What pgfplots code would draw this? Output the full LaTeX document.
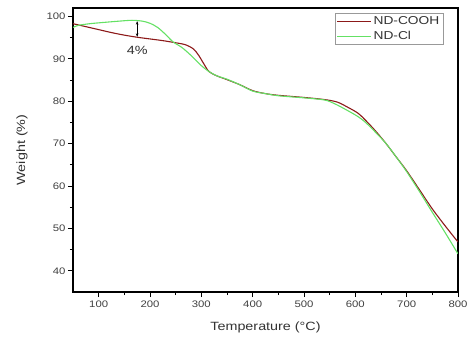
\documentclass[border=0pt]{standalone}
\usepackage{fontspec}
\setmainfont[FakeStretch=1.2]{Liberation Sans}
\usepackage{pgfplots}
\pgfplotsset{compat=1.18}
\usetikzlibrary{arrows.meta}
\definecolor{cooh}{RGB}{140,25,25}
\definecolor{ncl}{RGB}{100,225,100}
\begin{document}
\begin{tikzpicture}
\path[use as bounding box] (0,0) rectangle (467bp,339bp);
\begin{axis}[
  at={(73bp,47bp)}, anchor=south west,
  width=385bp, height=284bp, scale only axis,
  xmin=50, xmax=800, ymin=35, ymax=102,
  xtick={100,200,...,800}, ytick={40,50,...,100},
  minor xtick={150,250,...,750}, minor ytick={45,55,...,95},
  xtick pos=bottom, ytick pos=left, tick align=outside,
  major tick length=5bp, minor tick length=3bp,
  every tick/.style={black, line width=0.9pt},
  axis line style={line width=1.1pt},
  /pgf/number format/assume math mode=true,
  tick label style={font=\fontsize{9.5}{11}\selectfont, text=black!75},
  xticklabel style={yshift=0bp}, yticklabel style={xshift=1bp},
  xlabel={Temperature (°C)}, ylabel={Weight (\%)},
  label style={font=\fontsize{12}{14}\selectfont, text=black!80},
  xlabel style={yshift=-8bp}, ylabel style={yshift=12bp},
  legend style={at={(1,1)}, anchor=north east, xshift=-15bp, yshift=-5bp,
    draw=black!40, font=\fontsize{11.5}{13}\selectfont, text=black!80,
    inner sep=1.5pt, row sep=1pt, legend cell align=left},
  legend image code/.code={\draw[#1] (0cm,0cm) -- (1.2cm,0cm);},
]
\addplot[cooh, line width=1.1pt, smooth] coordinates {
(50,98.3) (75,97.6) (100,96.9) (125,96.2) (150,95.6) (175,95.1) (200,94.7)
(225,94.3) (250,93.8) (270,93.3) (285,92.3) (295,90.8) (305,88.8) (315,87.0)
(330,86.0) (350,85.1) (375,83.9) (400,82.5) (425,81.8) (450,81.4) (500,80.9)
(540,80.4) (565,79.8) (585,78.6) (605,77.2) (620,75.5) (640,72.9) (660,70.0)
(680,66.8) (700,63.6) (725,59.1) (750,54.6) (775,50.6) (800,46.8)};
\addlegendentry{ND-COOH}
\addplot[ncl, line width=1.1pt, smooth] coordinates {
(50,97.4) (60,97.9) (83,98.3) (110,98.6) (140,98.9) (165,99.1) (185,98.9)
(200,98.4) (215,97.4) (230,95.8) (245,94.0) (262,92.7) (280,90.8) (300,88.4)
(315,87.0) (330,86.0) (350,85.2) (375,83.9) (400,82.4) (425,81.8) (450,81.3)
(500,80.8) (540,80.3) (560,79.4) (585,77.8) (605,76.4) (620,75.0) (640,72.6)
(660,70.0) (680,66.8) (700,63.4) (725,58.7) (750,53.8) (775,49.0) (800,44.0)};
\addlegendentry{ND-Cl}
\draw[{Stealth[length=3.5pt]}-{Stealth[length=3.5pt]}, line width=0.8pt] (axis cs:175,98.9) -- (axis cs:175,95.2);
\node[font=\fontsize{12}{13}\selectfont, text=black!80] at (axis cs:175,92.0) {4\%};
\end{axis}
\end{tikzpicture}
\end{document}
